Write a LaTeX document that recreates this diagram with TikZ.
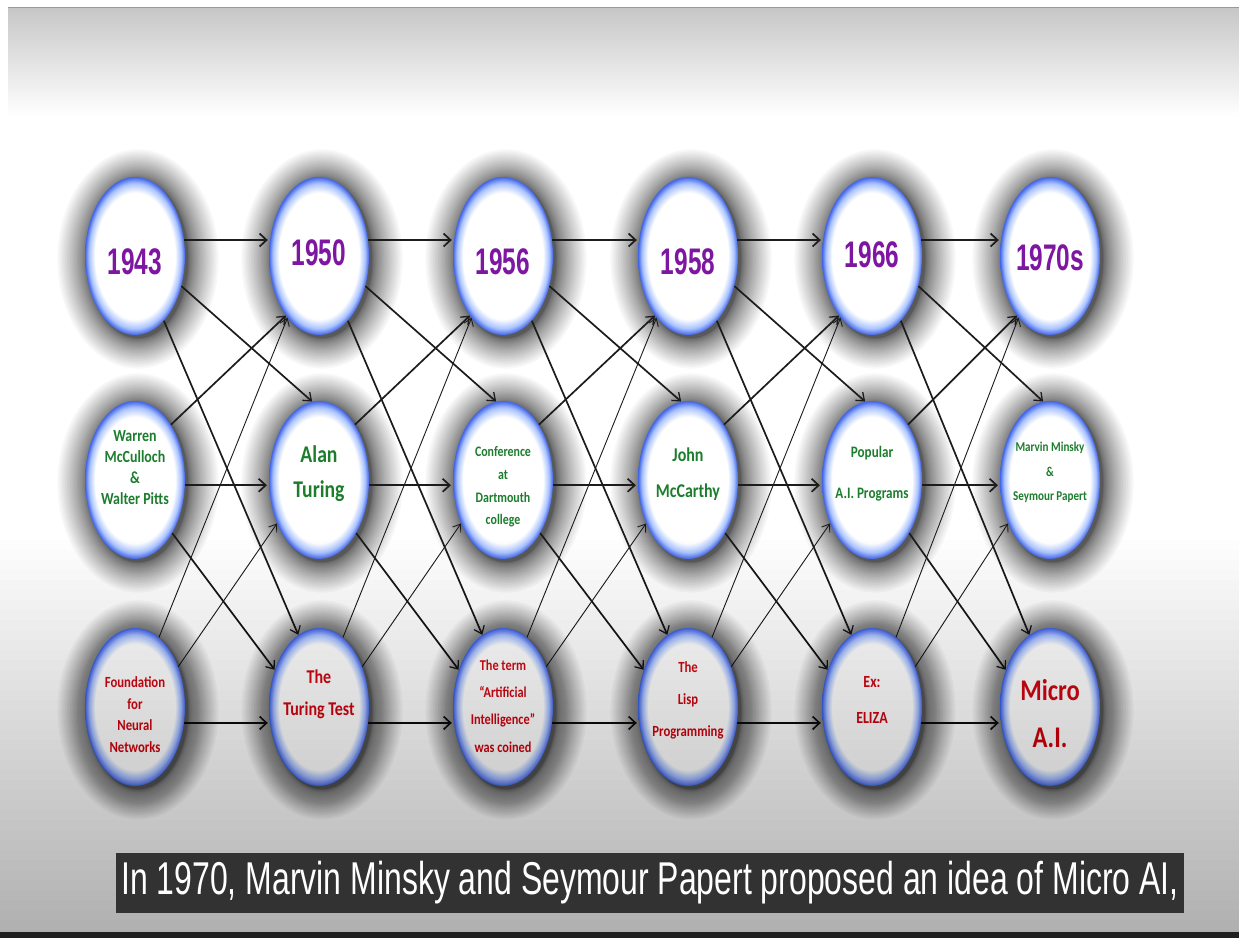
\documentclass[tikz,border=0pt]{standalone}
\usepackage{fontspec}
\usetikzlibrary{shapes.geometric,arrows.meta}
\newfontfamily\yfont[FakeStretch=0.66]{Liberation Sans}
\newfontfamily\nfont[FakeStretch=0.82]{Carlito}
\newfontfamily\capfont[FakeStretch=0.695]{Liberation Sans}
\definecolor{ypurple}{RGB}{125,22,160}
\definecolor{ngreen}{RGB}{28,125,45}
\definecolor{nred}{RGB}{215,20,30}
\definecolor{rimblue}{RGB}{65,100,230}
\definecolor{rimlight}{RGB}{170,195,255}
\definecolor{arrc}{RGB}{28,28,28}
\definecolor{capbg}{RGB}{50,50,50}
\pgfdeclareradialshading{rim}{\pgfpointorigin}{color(0bp)=(white); color(20bp)=(white); color(23bp)=(rimlight); color(25bp)=(rimblue); color(50bp)=(rimblue)}
\newcommand\myhalo[2]{\foreach \hk in {1,...,30}{\fill[black, opacity=0.03] (#1+3,#2-3) ellipse ({50+0.034*\hk*\hk} and {79+0.034*\hk*\hk});}}
\tikzset{
  bub/.style={ellipse, minimum width=100pt, minimum height=158pt, inner sep=0pt, shade, shading=rim},
  yr/.style={font=\yfont\bfseries\fontsize{37}{37}\selectfont, text=ypurple, inner sep=0pt},
  nf/.style 2 args={font=\nfont\bfseries\fontsize{#1}{#2}\selectfont},
  gt/.style={text=ngreen, align=center, inner sep=0pt},
  rt/.style={text=nred, align=center, inner sep=0pt},
  harr/.style={draw=arrc, line width=2.3pt, shorten >=2pt, -{Straight Barb[length=7pt,width=13pt,line width=1.7pt]}},
  darr/.style={draw=arrc, line width=1.7pt, -{Straight Barb[length=7pt,width=11pt,line width=1.3pt]}},
  tarr/.style={draw=arrc, line width=0.9pt, -{Straight Barb[length=7pt,width=10pt,line width=0.9pt]}},
  capbox/.style={fill=capbg, text=white, minimum width=1068pt, minimum height=60pt, inner sep=0pt,
    font=\capfont\fontsize{46}{46}\selectfont}
}
\begin{document}
\begin{tikzpicture}[x=1pt,y=1pt]
\useasboundingbox (0,0) rectangle (1239,938);
% background
\fill[white] (0,0) rectangle (1239,938);
\shade[top color=black!22, bottom color=white] (8,822) rectangle (1239,930);
\draw[black!40, line width=1.5pt] (8,930.5) -- (1239,930.5);
% halos
\foreach \x in {135,319,503,688,872,1050}{
  \foreach \y in {682,458,231}{\myhalo{\x}{\y}}}
% nodes
\foreach \c/\x in {1/135,2/319,3/503,4/688,5/872,6/1050}{
  \node[bub] (T\c) at (\x,682) {};
  \node[bub] (M\c) at (\x,458) {};
  \node[bub] (B\c) at (\x,231) {};
}
% connectors
\foreach \i/\j in {1/2,2/3,3/4,4/5,5/6}{
  \draw[harr] (T\i.18) -- (T\j.162);
  \draw[harr] (M\i.-6) -- (M\j.186);
  \draw[harr] (B\i.-18) -- (B\j.198);
  \draw[darr] (T\i.-33) -- (M\j.95);
  \draw[darr] (T\i.-66) -- (B\j.106);
  \draw[darr] (M\i.57) -- (T\j.241);
  \draw[darr] (M\i.-55) -- (B\j.140);
  \draw[tarr] (B\i.71) -- (T\j.243);
  \draw[tarr] (B\i.43) -- (M\j.226);
}
% texts top
\node[yr] (T1t) at (135,676.5) {1943};
\node[yr] (T2t) at (319,685) {1950};
\node[yr] (T3t) at (503,676) {1956};
\node[yr] (T4t) at (688,676) {1958};
\node[yr] (T5t) at (872,683) {1966};
\node[yr] (T6t) at (1050,680) {1970s};
% texts middle
\node[gt, nf={17}{21}] (M1t) at (135,470) {Warren\\McCulloch\\\&\\Walter Pitts};
\node[gt, nf={24}{35}] (M2t) at (319,464.5) {Alan\\Turing};
\node[gt, nf={14.5}{22.7}] (M3t) at (503,451) {Conference\\at\\Dartmouth\\college};
\node[gt, nf={19.5}{36}] (M4t) at (688,464) {John\\McCarthy};
\node[gt, nf={16}{41}] (M5t) at (872,464.5) {Popular\\A.I. Programs};
\node[gt, nf={13.5}{24.5}] (M6t) at (1050,465.5) {Marvin Minsky\\\&\\Seymour Papert};
% texts bottom
\node[rt, nf={15.5}{21.7}] (B1t) at (135,223.5) {Foundation\\for\\Neural\\Networks};
\node[rt, nf={19.5}{32}] (B2t) at (319,244) {The\\Turing Test};
\node[rt, nf={15}{27.3}] (B3t) at (503,232) {The term\\“Artificial\\Intelligence”\\was coined};
\node[rt, nf={15.5}{32}] (B4t) at (688,238) {The\\Lisp\\Programming};
\node[rt, nf={17}{36}] (B5t) at (872,238) {Ex:\\ELIZA};
\node[rt, nf={30}{47}] (B6t) at (1050,224.5) {Micro\\A.I.};
% bottom player gradient overlay
\foreach \s in {0,...,39}{\fill[black, opacity=0.0075] (0,6) rectangle (1239,{398-10*\s});}
% bottom bar
\fill[black!88] (0,0) rectangle (1239,6);
% caption
\node[capbox] (cap) at (650,55) {In 1970, Marvin Minsky and Seymour Papert proposed an idea of Micro AI,};
\end{tikzpicture}
\end{document}
